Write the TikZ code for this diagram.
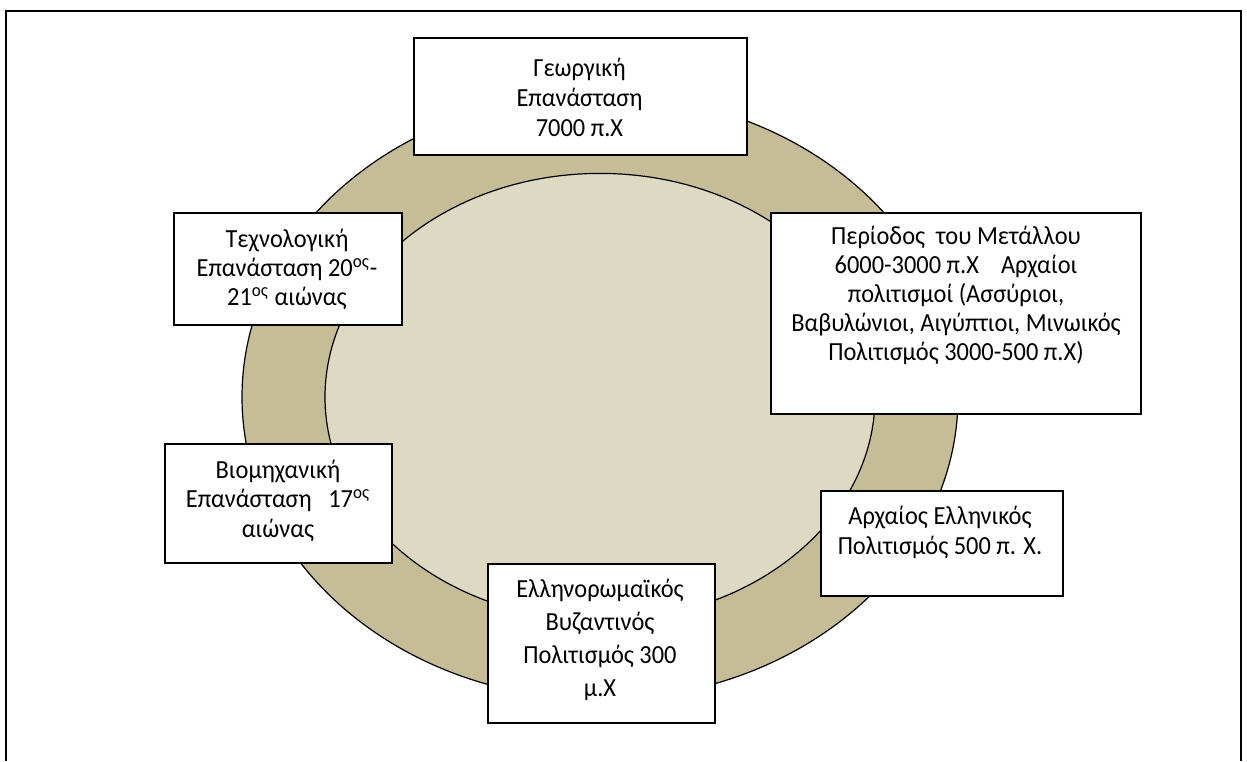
\documentclass[tikz,border=0pt]{standalone}
\usepackage{fontspec}
\setmainfont{Carlito}
\definecolor{ringc}{HTML}{C4BD97}
\definecolor{innerc}{HTML}{DDD9C3}
\newcommand\ytxt[1]{\scalebox{1}[1.07]{\begin{tabular}{@{}c@{}}#1\end{tabular}}}
\begin{document}
\begin{tikzpicture}[x=0.5pt,y=-0.5pt,
  frame/.style={line width=1pt,black},
  ring/.style={draw=black,line width=0.6pt},
  box/.style={draw=black,fill=white,line width=0.8pt,anchor=north west,inner sep=0pt},
  txt/.style={inner sep=0pt,anchor=north}]
\useasboundingbox (0,0) rectangle (1247,761);
% page frame
\coordinate (f1) at (6,761);
\coordinate (f2) at (6,10.5);
\coordinate (f3) at (1241,10.5);
\coordinate (f4) at (1241,761);
\draw[frame] (f1) -- (f2) -- (f3) -- (f4);
% ring
\coordinate (c) at (600,397);
\draw[ring,fill=ringc] (c) ellipse [x radius=179pt, y radius=151.3pt];
\draw[ring,fill=innerc] (c) ellipse [x radius=137.5pt, y radius=111.8pt];
% boxes
\node[box,minimum width=166.5pt,minimum height=58.5pt] (top) at (413,37) {};
\node[box,minimum width=114pt,minimum height=56pt] (tech) at (173,212) {};
\node[box,minimum width=185pt,minimum height=100.5pt] (metal) at (770,212) {};
\node[box,minimum width=113.5pt,minimum height=59.5pt] (indus) at (164,443) {};
\node[box,minimum width=121pt,minimum height=52.5pt] (greek) at (820,490) {};
\node[box,minimum width=113.5pt,minimum height=79.5pt] (byz) at (487,563) {};
% texts
\node[txt,font=\fontsize{12.2}{14.02}\selectfont] (topT) at (579.5,55)
  {\ytxt{Γεωργική\\Επανάσταση\\7000 π.Χ}};
\node[txt,font=\fontsize{12.2}{13.55}\selectfont] (techT) at (287,226.7)
  {\ytxt{Τεχνολογική\\Επανάσταση 20\textsuperscript{ος}-\\21\textsuperscript{ος} αιώνας}};
\node[txt,font=\fontsize{12.2}{13.55}\selectfont] (metalT) at (956,223.7)
  {\ytxt{Περίοδος\ \ του Μετάλλου\\6000-3000 π.Χ\ \ \ \ Αρχαίοι\\πολιτισμοί (Ασσύριοι,\\Βαβυλώνιοι, Αιγύπτιοι, Μινωικός\\Πολιτισμός 3000-500 π.Χ)}};
\node[txt,font=\fontsize{12.2}{13.79}\selectfont] (indusT) at (278,457.4)
  {\ytxt{Βιομηχανική\\Επανάσταση\ \ \ 17\textsuperscript{ος}\\αιώνας}};
\node[txt,font=\fontsize{12.2}{14.02}\selectfont] (greekT) at (940,503)
  {\ytxt{Αρχαίος Ελληνικός\\Πολιτισμός 500 π. Χ.}};
\node[txt,font=\fontsize{12.2}{15.42}\selectfont] (byzT) at (600,574)
  {\ytxt{Ελληνορωμαϊκός\\Βυζαντινός\\Πολιτισμός 300\\μ.Χ}};
\end{tikzpicture}
\end{document}
